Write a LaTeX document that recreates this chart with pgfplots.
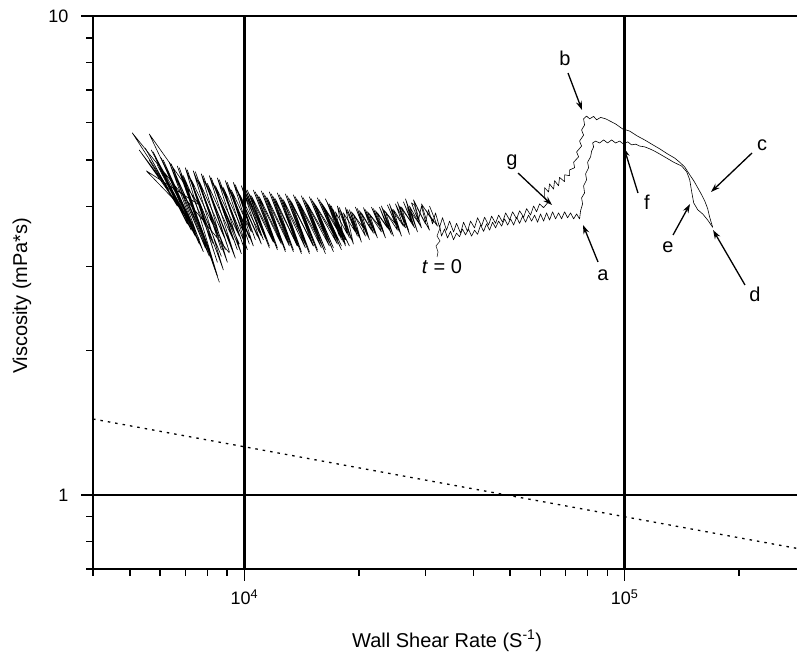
\documentclass[border=0pt]{standalone}
\usepackage{pgfplots}
\pgfplotsset{compat=1.18}
\usetikzlibrary{arrows.meta}
\usepackage{fontspec}
\setmainfont{Liberation Sans}

\begin{document}
\begin{tikzpicture}
\begin{axis}[
  scale only axis, width=704pt, height=553pt,
  xmode=log, ymode=log,
  xmin=4000, xmax=284000, ymin=0.7, ymax=10,
  axis x line*=bottom, axis y line*=left,
  axis line style={line width=1.2pt},
  xtick={1e4,1e5}, xticklabels={{10\textsuperscript{4}},{10\textsuperscript{5}}},
  minor xtick={4000,5000,6000,7000,8000,9000,20000,30000,40000,50000,60000,70000,80000,90000,200000},
  ytick={1,10}, yticklabels={1,10},
  minor ytick={0.7,0.8,0.9,2,3,4,5,6,7,8,9},
  tick align=outside,
  major tick length=12pt, minor tick length=7pt,
  every tick/.style={black, line width=1.4pt},
  tick label style={font=\fontsize{18}{20}\selectfont},
  xticklabel style={yshift=-5pt},
  yticklabel style={xshift=-9pt},
  /pgf/number format/assume math mode=true,
  every axis x label/.style={at={(axis description cs:0.503,-0.130)}, anchor=center,
    font=\fontsize{20}{22}\selectfont},
  every axis y label/.style={at={(axis description cs:-0.101,0.494)}, rotate=90, anchor=center,
    font=\fontsize{20}{22}\selectfont},
  xlabel={Wall Shear Rate (S\textsuperscript{-1})},
  ylabel={Viscosity (mPa*s)},
]
% grid lines at the decades
\draw[line width=2.4pt] (axis cs:1e4,0.7) -- (axis cs:1e4,10);
\draw[line width=2.4pt] (axis cs:1e5,0.7) -- (axis cs:1e5,10);
\draw[line width=2.4pt] (axis cs:4000,1) -- (axis cs:284000,1);
\draw[line width=1.2pt] (axis cs:4000,10) -- (axis cs:284000,10);

% dotted reference line
\addplot[black, line width=1.3pt, dash pattern=on 2.5pt off 5pt, no markers]
  coordinates {(4000,1.44) (10000,1.26) (100000,0.90) (284000,0.773)};

% t = 0 -> a -> lower hump -> d
\addplot[black, line width=0.6pt, line join=round, no markers] coordinates {
(32603,3.66) (33000,3.47) (33607,3.59) (34222,3.44) (34852,3.55) (35494,3.41) (36145,3.52) (36803,3.46)
(37480,3.59) (38168,3.49) (38865,3.59) (39576,3.47) (40303,3.57) (41045,3.50) (41799,3.66) (42570,3.55)
(43348,3.68) (44141,3.57) (44953,3.71) (45777,3.61) (46620,3.73) (47475,3.64) (48347,3.77) (49230,3.66)
(50134,3.77) (51060,3.66) (51993,3.80) (52943,3.69) (53916,3.82) (54906,3.71) (55897,3.84) (56920,3.73)
(57966,3.84) (59024,3.71) (60107,3.86) (61217,3.73) (62335,3.88) (63477,3.75) (64643,3.90) (65830,3.77)
(67034,3.88) (68260,3.77) (69514,3.90) (70799,3.79) (72098,3.88) (73430,3.77) (74772,3.86) (76135,3.77)
(76598,3.92) (77534,4.05) (77064,4.17) (78480,4.27) (78009,4.42) (79437,4.55) (78957,4.68) (80408,4.82)
(79916,4.95) (81380,5.08) (81878,5.22) (82886,5.33) (82378,5.43) (83890,5.48)
(85944,5.43) (88062,5.51) (90205,5.43) (92420,5.51) (94690,5.43) (97008,5.48) (99400,5.40) (101843,5.46)
(104343,5.38) (106906,5.40) (109516,5.35) (112890,5.33) (116360,5.28) (119940,5.22) (123623,5.15)
(128985,5.05) (134583,4.95) (141247,4.86) (145595,4.73) (148300,4.55) (150109,4.29) (151948,4.07)
(155651,3.94) (160443,3.86) (165346,3.75) (170441,3.62)
};

% d -> c -> upper branch -> b -> g -> band -> low shear rates
\addplot[black, line width=0.6pt, line join=round, no markers] coordinates {
(170441,3.62) (167360,3.80) (165346,3.96) (162400,4.11) (159472,4.23) (155651,4.38) (151948,4.53)
(148300,4.66) (143840,4.84) (139545,4.95) (135390,5.05) (129758,5.15) (123623,5.28) (117780,5.40)
(112890,5.51) (108196,5.61) (103085,5.75) (98795,5.81) (94690,5.95) (91306,6.04) (89130,6.10)
(86467,6.14) (84400,6.07) (82886,6.17) (80891,6.10) (79437,6.18) (78009,6.10)
(78480,5.92) (77064,5.78) (78009,5.64) (76135,5.48) (77064,5.35) (74772,5.20) (75680,5.08) (73430,4.95)
(73871,4.82) (71663,4.77) (71663,4.64) (69514,4.66) (69514,4.51) (67437,4.60) (67034,4.42) (65432,4.53)
(65042,4.35) (63477,4.46) (63099,4.29) (61584,4.38) (61584,4.19) (62712,4.07) (61217,3.98)
(59744,4.05) (58673,3.90) (57619,4.01) (56570,3.84) (55240,3.96) (54248,3.80) (52943,3.92) (51993,3.77)
(50747,3.90) (49831,3.75) (48641,3.88) (47764,3.71) (46620,3.84) (45777,3.69) (44680,3.82) (43877,3.66)
(42826,3.80) (42053,3.64) (41045,3.79) (40303,3.61) (39337,3.73) (38628,3.55) (37711,3.71) (37027,3.52)
(36145,3.69) (35494,3.54) (34642,3.73) (34017,3.57) (33202,3.79) (32603,3.62) (31821,3.88) (31248,3.68)
(30501,3.94) (29948,3.71) (29231,4.01) (28707,3.75) (28018,4.03)
(27513,4.07) (28879,3.68) (26853,3.98) (28018,3.61) (26210,4.09) (27513,3.71) (25582,4.01) (27016,3.57)
(24970,4.05) (26210,3.64) (24371,3.96) (25582,3.54) (23787,4.03) (24970,3.68) (23218,3.94) (24371,3.50)
(22662,3.99) (23787,3.61) (22121,3.92) (23218,3.54) (21590,3.99) (22662,3.64) (21072,3.90) (22121,3.50)
(20568,3.98) (21590,3.57) (20075,3.92) (21072,3.47) (19594,3.99) (20568,3.61) (19125,3.90) (20075,3.44)
(18667,3.94) (19594,3.54) (18220,3.88) (19125,3.41) (17783,3.98) (18667,3.50) (17357,3.90) (18220,3.37)
(16940,4.01) (17783,3.47)
(16534,4.07) (18442,3.34) (16139,4.01) (18000,3.31) (15752,4.13) (17568,3.41) (15376,4.03) (17148,3.28)
(15007,4.15) (16736,3.37) (14648,4.05) (16336,3.25) (14298,4.17) (15944,3.34) (13955,4.07) (15563,3.25)
(13621,4.19) (15191,3.31) (13294,4.09) (14826,3.22) (12976,4.21) (14472,3.34) (12666,4.13) (14125,3.22)
(12362,4.23) (13787,3.31) (12066,4.15) (13457,3.25) (11777,4.25) (13134,3.34) (11495,4.17) (12820,3.22)
(11220,4.27) (12513,3.37) (10951,4.19) (12213,3.28) (10689,4.29) (11921,3.41) (10434,4.21) (11635,3.31)
(10183,4.33) (11357,3.44)
(9940,4.38) (11085,3.47) (9702,4.25) (10689,3.41) (9470,4.44) (10434,3.54) (9243,4.33) (10308,3.34)
(9022,4.49) (10061,3.47) (8806,4.38) (9940,3.31) (8595,4.55) (9702,3.47) (8390,4.42) (9585,3.25)
(8189,4.59) (9356,3.41) (7992,4.47) (9132,3.22) (7800,4.64) (8914,3.41) (7614,4.51) (8700,3.25)
(7431,4.73) (8595,3.44) (7253,4.55) (8492,3.06) (7079,4.77) (8289,3.34) (6910,4.64) (8595,2.78)
(6744,4.82) (8090,3.25) (6583,4.68) (7896,3.33) (6424,4.91) (7800,3.22) (6271,4.73) (7614,3.41)
(6121,5.00) (7431,3.47) (5974,4.82) (7253,3.64) (5831,5.05) (7166,3.71) (5692,5.25) (6994,3.94)
(5623,5.67) (7614,4.03) (5522,4.75) (6543,4.13) (5292,5.25) (6347,4.33) (5074,5.70) (9132,3.20)
};

% a second pass through the noisy band and the low shear-rate cluster
\addplot[black, line width=0.6pt, line join=round, no markers] coordinates {
(30684,4.01) (32208,3.64) (29948,3.94) (31440,3.71) (29231,4.05) (30684,3.57) (28532,3.96) (29948,3.68)
(27851,4.13) (29231,3.61) (27181,4.01) (28532,3.54) (26530,4.15) (27851,3.64) (25894,3.99) (27181,3.50)
(25273,4.09) (26530,3.61) (24670,3.94) (25894,3.47) (24077,4.05) (25273,3.57) (23502,3.90) (24670,3.47)
(22938,4.01) (24077,3.57) (22389,3.88) (23502,3.44) (21854,3.96) (22938,3.54) (21330,3.86) (22389,3.44)
(20819,3.94) (21854,3.52) (20320,3.88) (21330,3.41) (19832,3.96) (20819,3.47) (19358,3.86) (20320,3.37)
(18894,3.94) (19832,3.47) (18442,3.98) (19358,3.34) (18000,3.90) (18894,3.44) (17568,4.01) (18442,3.31)
(17148,3.94) (18000,3.41)
(16736,4.05) (18894,3.31) (16336,4.15) (18442,3.41) (15944,4.07) (18000,3.25) (15563,4.17) (17568,3.34)
(15191,4.09) (17148,3.22) (14826,4.19) (16736,3.31) (14472,4.11) (16336,3.19) (14125,4.21) (15944,3.28)
(13787,4.13) (15563,3.22) (13457,4.23) (15191,3.31) (13134,4.15) (14826,3.19) (12820,4.25) (14472,3.28)
(12513,4.17) (14125,3.19) (12213,4.27) (13787,3.31) (11921,4.19) (13457,3.22) (11635,4.29) (13134,3.31)
(11357,4.21) (12820,3.25) (11085,4.31) (12513,3.34) (10819,4.23) (12213,3.25) (10560,4.33) (11921,3.37)
(10308,4.25) (11635,3.28) (10061,4.36) (11220,3.41)
(9820,4.42) (11085,3.34) (9585,4.33) (10819,3.47) (9356,4.49) (10560,3.31) (9132,4.38) (10308,3.44)
(8914,4.53) (10183,3.25) (8700,4.42) (9940,3.41) (8492,4.59) (9820,3.19) (8289,4.47) (9702,3.34)
(8090,4.64) (9470,3.12) (7896,4.51) (9243,3.31) (7707,4.68) (9022,3.06) (7521,4.55) (8914,3.25)
(7341,4.75) (8806,2.95) (7166,4.62) (8700,3.15) (6994,4.82) (8492,2.87) (6826,4.68) (8289,3.06)
(6663,4.86) (8090,3.15) (6503,4.73) (7896,3.28) (6347,4.95) (7614,3.34) (6195,4.82) (7431,3.54)
(6047,5.05) (7253,3.57) (5902,4.89) (7079,3.68) (5761,5.20) (6910,3.86) (5623,5.00) (6663,4.01)
(5488,5.30) (6424,4.21)
};

% annotations
\tikzset{ann/.style={line width=1.3pt, -{Stealth[length=9pt,width=6pt]}},
         lab/.style={font=\fontsize{20}{22}\selectfont, inner sep=0pt}}
\draw[ann] (rel axis cs:0.7173,0.5552) -- (rel axis cs:0.6960,0.6221);
\node[lab] at (rel axis cs:0.7244,0.5316) {a};
\draw[ann] (rel axis cs:0.6747,0.8969) -- (rel axis cs:0.6946,0.8300);
\node[lab] at (rel axis cs:0.6705,0.9241) {b};
\draw[ann] (rel axis cs:0.9361,0.7523) -- (rel axis cs:0.8778,0.6817);
\node[lab] at (rel axis cs:0.9503,0.7667) {c};
\draw[ann] (rel axis cs:0.9261,0.5136) -- (rel axis cs:0.8807,0.6130);
\node[lab] at (rel axis cs:0.9403,0.4973) {d};
\draw[ann] (rel axis cs:0.8239,0.6040) -- (rel axis cs:0.8480,0.6600);
\node[lab] at (rel axis cs:0.8168,0.5823) {e};
\draw[ann] (rel axis cs:0.7741,0.6799) -- (rel axis cs:0.7543,0.7613);
\node[lab] at (rel axis cs:0.7869,0.6637) {f};
\draw[ann] (rel axis cs:0.6037,0.7161) -- (rel axis cs:0.6520,0.6582);
\node[lab] at (rel axis cs:0.5952,0.7360) {g};
\draw[line width=0.5pt] (rel axis cs:0.4929,0.6166) -- (rel axis cs:0.4886,0.6022)
  -- (rel axis cs:0.4929,0.5931) -- (rel axis cs:0.4872,0.5841)
  -- (rel axis cs:0.4901,0.5732) -- (rel axis cs:0.4886,0.5642);
\node[lab] at (rel axis cs:0.4957,0.5461) {\textit{t} = 0};
\end{axis}
\pgfresetboundingbox
\path[use as bounding box] (current axis.south west) ++(-93pt,-84pt) rectangle ++(797pt,653pt);
\end{tikzpicture}
\end{document}
